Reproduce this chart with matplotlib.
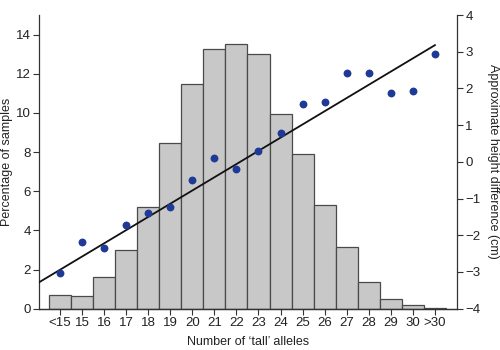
import matplotlib
matplotlib.use("Agg")
import matplotlib.pyplot as plt
import numpy as np

plt.rcParams['font.family'] = ['Liberation Sans', 'DejaVu Sans']

# allele-count categories and share of samples (%) in each
categories = ["<15", "15", "16", "17", "18", "19", "20", "21", "22",
              "23", "24", "25", "26", "27", "28", "29", "30", ">30"]
percent = [0.7, 0.66, 1.62, 2.98, 5.2, 8.47, 11.49, 13.29, 13.5,
           12.99, 9.97, 7.88, 5.3, 3.17, 1.35, 0.52, 0.18, 0.04]

# mean height difference (cm) per category
height_diff = [-3.04, -2.17, -2.34, -1.72, -1.39, -1.23, -0.49, 0.1, -0.2,
               0.3, 0.8, 1.57, 1.62, 2.42, 2.42, 1.89, 1.92, 2.94]

# fitted trend: cm per extra allele, and value at the first category
trend_slope = 0.36
trend_intercept = -2.94

x = np.arange(len(categories))

fig = plt.figure(figsize=(5, 3.5), dpi=100)
ax = fig.add_axes([0.078, 0.118, 0.836, 0.839])
ax.bar(x, percent, width=1.0, color="#c8c8c8", edgecolor="#4a4a4a",
       linewidth=0.9, zorder=1)
ax.set_xlim(-0.95, 18)
ax.set_ylim(0, 15)
ax.set_yticks(np.arange(0, 15, 2))
ax.set_xticks(x)
ax.set_xticklabels(categories)
ax.spines['top'].set_visible(False)
ax.spines['right'].set_visible(False)
ax.tick_params(labelsize=9.5, length=4, width=0.8, color="#333333",
               labelcolor="#222222", pad=2)
ax.set_ylabel("Percentage of samples", fontsize=9, color="#222222",
              labelpad=2)
ax.set_xlabel("Number of \u2018tall\u2019 alleles", fontsize=9,
              color="#222222", labelpad=5)

ax2 = ax.twinx()
ax2.set_ylim(-4, 4)
ax2.set_yticks(np.arange(-4, 5, 1))
ax2.set_yticklabels([str(v).replace("-", "\u2212")
                     for v in range(-4, 5)])
ax2.spines['top'].set_visible(False)
ax2.spines['left'].set_visible(False)
ax2.tick_params(labelsize=9.5, length=4, width=0.8, color="#333333",
                labelcolor="#222222", pad=2)
ax2.set_ylabel("Approximate height difference (cm)", fontsize=9,
               rotation=-90, va="center", color="#222222")
ax2.yaxis.set_label_coords(1.085, 0.5)

# regression line drawn from the left edge to the last category
xl = np.array([-0.95, 17])
ax2.plot(xl, trend_intercept + trend_slope * xl, color="#111111",
         linewidth=1.3, zorder=3)
ax2.scatter(x, height_diff, s=32, color="#1f3a96", zorder=4,
            linewidths=0)

for sp in list(ax.spines.values()) + list(ax2.spines.values()):
    sp.set_linewidth(0.9)
    sp.set_color("#333333")

fig.savefig("out.png", dpi=100)
